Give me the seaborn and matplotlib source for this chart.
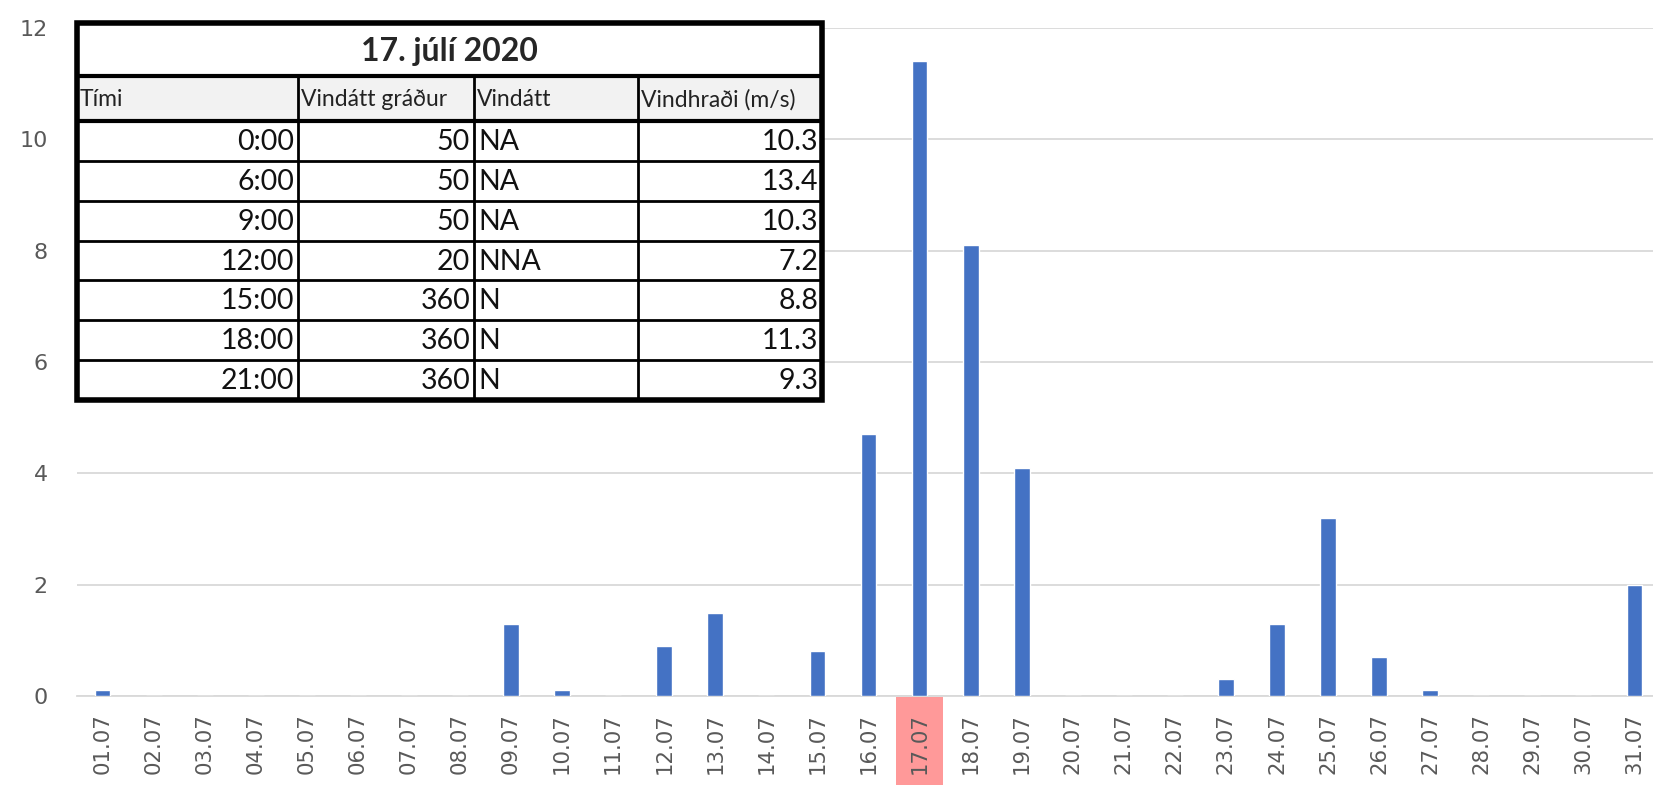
import numpy as np
import pandas as pd
import seaborn as sns
import matplotlib.pyplot as plt
from matplotlib.patches import Rectangle

# daily values for July 2020
days = ["%02d.07" % d for d in range(1, 32)]
values = [0.1, 0, 0, 0, 0, 0, 0, 0, 1.3, 0.1,
          0, 0.9, 1.5, 0, 0.8, 4.7, 11.4, 8.1, 4.1, 0,
          0, 0, 0.3, 1.3, 3.2, 0.7, 0.1, 0, 0, 0, 2.0]
highlight_day = "17.07"

# inset table
table_title = "17. júlí 2020"
table_header = ["Tími", "Vindátt gráður", "Vindátt", "Vindhraði (m/s)"]
times = ["0:00", "6:00", "9:00", "12:00", "15:00", "18:00", "21:00"]
degrees = ["50", "50", "50", "20", "360", "360", "360"]
directions = ["NA", "NA", "NA", "NNA", "N", "N", "N"]
speeds = ["10.3", "13.4", "10.3", "7.2", "8.8", "11.3", "9.3"]

sns.set_style("white")
plt.rcParams["font.family"] = ["DejaVu Sans"]
df = pd.DataFrame({"day": days, "value": values})

W, H = 1653, 785
fig = plt.figure(figsize=(W / 100, H / 100), dpi=100)
ax = fig.add_axes([77 / W, (H - 696) / H, 1583 / W, 668 / H])

sns.barplot(data=df, x="day", y="value", color="#4472C4", width=0.31,
            saturation=1, ax=ax, zorder=3)
ax.set_xlim(-0.5, len(days) - 0.5)
ax.set_ylim(0, 12)
ax.set_yticks(range(0, 13, 2))
ax.set_xlabel("")
ax.set_ylabel("")
ax.grid(axis="y", color="#d9d9d9", linewidth=1.3, zorder=0)
for s in ["top", "right", "left"]:
    ax.spines[s].set_visible(False)
ax.spines["bottom"].set_color("#d9d9d9")
ax.spines["bottom"].set_linewidth(1.3)

ax.tick_params(axis="y", length=0, pad=21, labelsize=16, labelcolor="#595959")
ax.tick_params(axis="x", which="major", length=0, pad=12, labelsize=15.3,
               labelcolor="#595959", labelrotation=90)
ax.set_xticks(np.arange(-0.5, len(days), 1), minor=True)
ax.tick_params(axis="x", which="minor", length=6, color="#d9d9d9", width=1.3)
for lab in ax.get_xticklabels():
    lab.set_verticalalignment("top")

# pink highlight behind the 17.07 label
hi = days.index(highlight_day)
rect = Rectangle((hi - 0.46, -89 / 668), 0.92, 88 / 668,
                 transform=ax.get_xaxis_transform(), facecolor="#ff9999",
                 edgecolor="none", clip_on=False, zorder=0)
ax.add_patch(rect)

# inset table drawn in its own axes, pixel units
tx0, tx1, ty0, ty1 = 77, 822, 23, 400
tab = fig.add_axes([tx0 / W, (H - ty1) / H, (tx1 - tx0) / W, (ty1 - ty0) / H])
tw, th = tx1 - tx0, ty1 - ty0
tab.set_xlim(0, tw)
tab.set_ylim(th, 0)
tab.axis("off")
tab.add_patch(Rectangle((0, 0), tw, th, facecolor="white", edgecolor="none"))

cols = [0, 221, 397, 561, tw]
title_h, head_h = 53, 45
row_h = (th - title_h - head_h) / len(times)

tab.add_patch(Rectangle((0, title_h), tw, head_h, facecolor="#f2f2f2",
                        edgecolor="none"))
tab.text(tw / 2, title_h / 2 + 2, table_title, ha="center", va="center",
         fontsize=23, fontweight="bold", family="Lato")
for i, h in enumerate(table_header):
    tab.text(cols[i] + 3, title_h + head_h / 2 + 1, h, ha="left", va="center",
             fontsize=16.5, family="Lato", color="#222222")

rows = list(zip(times, degrees, directions, speeds))
aligns = ["right", "right", "left", "right"]
for r, row in enumerate(rows):
    yc = title_h + head_h + row_h * (r + 0.5)
    for c, txt in enumerate(row):
        x = cols[c + 1] - 4 if aligns[c] == "right" else cols[c] + 4
        tab.text(x, yc + 1, txt, ha=aligns[c], va="center", fontsize=20.5,
                 family="Lato", color="#111111")

# grid lines of the table
lw_in = 2.0
tab.plot([0, tw], [title_h, title_h], color="black", lw=3)
tab.plot([0, tw], [title_h + head_h, title_h + head_h], color="black", lw=3)
for r in range(1, len(times)):
    y = title_h + head_h + row_h * r
    tab.plot([0, tw], [y, y], color="black", lw=lw_in)
for x in cols[1:-1]:
    tab.plot([x, x], [title_h, th], color="black", lw=lw_in)
tab.add_patch(Rectangle((0, 0), tw, th, facecolor="none", edgecolor="black",
                        lw=4, clip_on=False))

fig.savefig("out.png", dpi=100)
